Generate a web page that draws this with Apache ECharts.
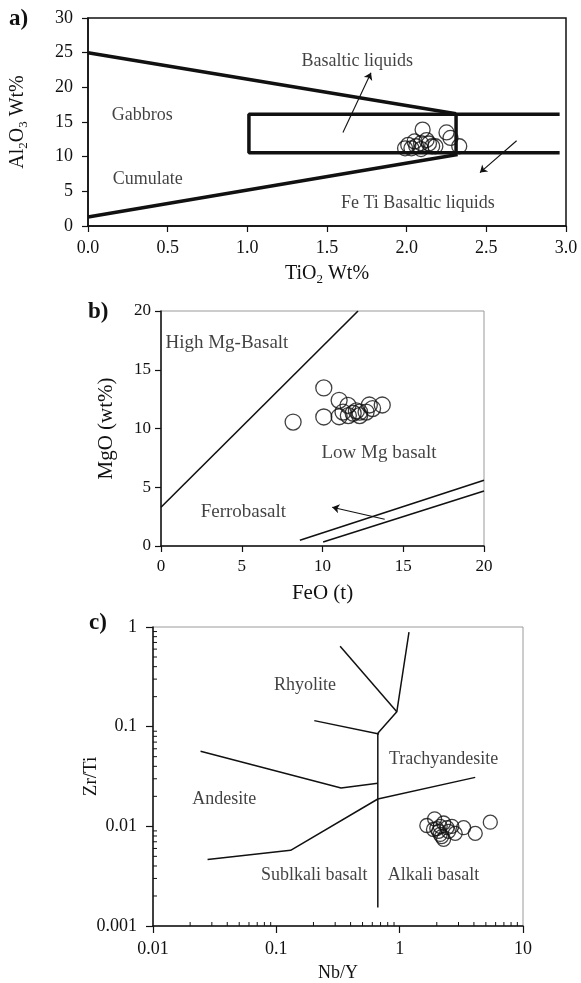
<!DOCTYPE html>
<html>
<head>
<meta charset="utf-8">
<title>Geochemical discrimination diagrams</title>
<script src="https://cdn.jsdelivr.net/npm/echarts@6/dist/echarts.min.js"></script>
<style>
  html, body { margin: 0; padding: 0; background: #fff; }
  #main { width: 581px; height: 983px; }
</style>
</head>
<body>
<div id="main"></div>
<script>
  var serif = 'Liberation Serif'
  var ink = '#111'

  // a) TiO2 vs Al2O3
  var tio2A = [2.10, 2.25, 2.275, 2.33, 1.99, 2.01, 2.05, 2.06, 2.09, 2.125, 2.14, 2.16, 2.18, 2.03, 2.09]
  var al2o3A = [13.9, 13.5, 12.7, 11.5, 11.2, 11.7, 12.2, 11.5, 11.95, 12.4, 11.9, 11.5, 11.5, 11.2, 11.1]
  var fieldLinesA = [
    [[0, 25], [2.31, 16.2]],
    [[0, 1.3], [2.32, 10.3]],
    [[2.96, 16.1], [1.01, 16.1], [1.01, 10.55], [2.96, 10.55]],
    [[2.31, 16.1], [2.31, 10.55]]
  ]
  var arrowsA = [
    [[1.60, 13.5], [1.776, 22.1]],
    [[2.69, 12.3], [2.46, 7.7]]
  ]
  var labelsA = [
    ['Basaltic liquids', 1.69, 23.7],
    ['Gabbros', 0.34, 16.0],
    ['Cumulate', 0.375, 6.75],
    ['Fe Ti Basaltic liquids', 2.07, 3.27]
  ]

  // b) FeO(t) vs MgO
  var feoB = [10.08, 8.18, 10.08, 11.03, 11.03, 11.58, 11.27, 11.9, 12.3, 12.7, 12.9, 13.1, 13.7, 12.3, 11.6, 12.1]
  var mgoB = [13.45, 10.55, 10.98, 12.4, 11.0, 11.97, 11.4, 11.3, 11.4, 11.4, 12.0, 11.7, 12.0, 11.1, 11.1, 11.5]
  var fieldLinesB = [
    [[0, 3.3], [12.2, 20]],
    [[8.6, 0.49], [20, 5.6]],
    [[10.04, 0.34], [20, 4.68]]
  ]
  var arrowsB = [
    [[13.85, 2.27], [10.6, 3.3]]
  ]
  var labelsB = [
    ['High Mg-Basalt', 4.08, 17.3],
    ['Low Mg basalt', 13.5, 7.9],
    ['Ferrobasalt', 5.1, 2.9]
  ]

  // c) Nb/Y vs Zr/Ti (log-log)
  var nbyC = [1.66, 1.92, 2.13, 2.27, 2.42, 2.65, 2.82, 3.30, 4.10, 5.43, 2.07, 2.19, 2.27, 2.13, 2.49, 1.88, 2.0]
  var zrtiC = [0.0102, 0.0119, 0.0100, 0.0108, 0.0097, 0.0100, 0.0085, 0.0097, 0.0085, 0.0110, 0.0089, 0.0079, 0.0074, 0.0083, 0.0089, 0.0093, 0.0095]
  var fieldLinesC = [
    [[0.665, 0.086], [0.665, 0.00153]],
    [[0.665, 0.086], [0.948, 0.141], [1.19, 0.89]],
    [[0.329, 0.64], [0.948, 0.141]],
    [[0.203, 0.115], [0.68, 0.0845]],
    [[0.0243, 0.0567], [0.335, 0.0242], [0.665, 0.0271]],
    [[0.0277, 0.00465], [0.1306, 0.00575], [0.665, 0.0188], [4.1, 0.031]]
  ]
  var labelsC = [
    ['Rhyolite', 0.171, 0.261],
    ['Trachyandesite', 2.27, 0.0475],
    ['Andesite', 0.0378, 0.0185],
    ['Sublkali basalt', 0.203, 0.00324],
    ['Alkali basalt', 1.88, 0.00324]
  ]
  var xMinC = 0.01, xMaxC = 10
  var yMinC = 0.001, yMaxC = 1
  var minorMult = [2, 3, 4, 5, 6, 7, 8, 9]
  var decadesX = [0.01, 0.1, 1]
  var decadesY = [0.001, 0.01, 0.1]

  function zip(xs, ys) {
    return xs.map(function (x, i) { return [x, ys[i]] })
  }

  function axis(grid, opt) {
    var base = {
      gridIndex: grid,
      nameLocation: 'middle',
      nameMoveOverlap: false,
      axisLine: { show: true, onZero: false, lineStyle: { color: ink, width: 1.5 } },
      axisTick: { show: true, inside: false, length: 6, lineStyle: { color: ink, width: 1.2 } },
      axisLabel: { color: ink, fontFamily: serif, fontSize: 18, margin: 13 },
      splitLine: { show: false },
      nameTextStyle: { color: ink, fontFamily: serif, fontSize: 20 }
    }
    return Object.assign(base, opt)
  }

  function boundarySeries(lines, idx, width) {
    return lines.map(function (pts) {
      return {
        type: 'line', xAxisIndex: idx, yAxisIndex: idx,
        data: pts, showSymbol: false, symbol: 'none', silent: true,
        lineStyle: { color: ink, width: width }, z: 3
      }
    })
  }

  function arrowSeries(arrows, idx) {
    return {
      type: 'lines', coordinateSystem: 'cartesian2d', xAxisIndex: idx, yAxisIndex: idx,
      symbol: ['none', 'arrow'], symbolSize: 7, silent: true,
      lineStyle: { color: ink, width: 1.1, opacity: 1, curveness: 0 },
      data: arrows.map(function (a) { return { coords: a } }), z: 3
    }
  }

  function labelSeries(labels, idx, size) {
    return {
      type: 'scatter', xAxisIndex: idx, yAxisIndex: idx, symbolSize: 1, silent: true,
      itemStyle: { color: 'rgba(0,0,0,0)' },
      label: { show: true, position: 'inside', formatter: '{b}', color: ink, fontFamily: serif, fontSize: size },
      data: labels.map(function (l) { return { name: l[0], value: [l[1], l[2]] } }), z: 4
    }
  }

  function pointSeries(xs, ys, idx, size) {
    return {
      type: 'scatter', xAxisIndex: idx, yAxisIndex: idx, symbol: 'circle', symbolSize: size,
      itemStyle: { color: 'rgba(0,0,0,0)', borderColor: ink, borderWidth: 1.3 },
      data: zip(xs, ys), z: 5
    }
  }

  // small log ticks on panel c, pointing inwards
  var minorTicksC = []
  decadesX.forEach(function (d) {
    minorMult.forEach(function (m) { minorTicksC.push([m * d, yMinC, 0]) })
  })
  decadesY.forEach(function (d) {
    minorMult.forEach(function (m) { minorTicksC.push([xMinC, m * d, 1]) })
  })

  var logFmt = function (v) { return String(+v.toPrecision(2)) }
  var subRich = {
    n: { fontFamily: serif, fontSize: 20, lineHeight: 24, color: ink },
    s: { fontFamily: serif, fontSize: 13, lineHeight: 15, verticalAlign: 'bottom', color: ink }
  }

  var chart = echarts.init(document.getElementById('main'))
  var option = {
    backgroundColor: '#fff',
    animation: false,
    title: [
      { text: 'a)', left: 9, top: 8, padding: 0, textStyle: { fontFamily: serif, fontSize: 23, fontWeight: 'bold', color: ink } },
      { text: 'b)', left: 88, top: 301, padding: 0, textStyle: { fontFamily: serif, fontSize: 23, fontWeight: 'bold', color: ink } },
      { text: 'c)', left: 89, top: 612, padding: 0, textStyle: { fontFamily: serif, fontSize: 23, fontWeight: 'bold', color: ink } }
    ],
    grid: [
      { left: 87, top: 18, width: 479, height: 208, show: true, borderColor: ink, borderWidth: 1.5 },
      { left: 161, top: 311, width: 323, height: 235, show: true, borderColor: '#9a9a9a', borderWidth: 1 },
      { left: 153, top: 627, width: 370, height: 302, show: true, borderColor: '#9a9a9a', borderWidth: 1 }
    ],
    xAxis: [
      axis(0, {
        type: 'value', min: 0, max: 3, interval: 0.5,
        name: '{n|TiO}{s|2}{n| Wt%}', nameGap: 36,
        nameTextStyle: { rich: subRich },
        axisLabel: { color: ink, fontFamily: serif, fontSize: 18, margin: 13, formatter: function (v) { return v.toFixed(1) } }
      }),
      axis(1, {
        type: 'value', min: 0, max: 20, interval: 5,
        name: 'FeO (t)', nameGap: 37,
        nameTextStyle: { color: ink, fontFamily: serif, fontSize: 21 },
        axisLabel: { color: ink, fontFamily: serif, fontSize: 17, margin: 12 }
      }),
      axis(2, {
        type: 'log', logBase: 10, min: xMinC, max: xMaxC,
        name: 'Nb/Y', nameGap: 38,
        nameTextStyle: { color: ink, fontFamily: serif, fontSize: 18 },
        axisTick: { show: true, inside: false, length: 7, lineStyle: { color: ink, width: 1.2 } },
        axisLabel: { color: ink, fontFamily: serif, fontSize: 18, margin: 14, formatter: logFmt }
      })
    ],
    yAxis: [
      axis(0, {
        type: 'value', min: 0, max: 30, interval: 5,
        name: '{n|Al}{s|2}{n|O}{s|3}{n| Wt%}', nameGap: 58, nameRotate: 90,
        nameTextStyle: { rich: subRich },
        axisLabel: { color: ink, fontFamily: serif, fontSize: 18, margin: 15 }
      }),
      axis(1, {
        type: 'value', min: 0, max: 20, interval: 5,
        name: 'MgO (wt%)', nameGap: 44, nameRotate: 90,
        nameTextStyle: { color: ink, fontFamily: serif, fontSize: 21 },
        axisLabel: { color: ink, fontFamily: serif, fontSize: 17, margin: 10 }
      }),
      axis(2, {
        type: 'log', logBase: 10, min: yMinC, max: yMaxC,
        name: 'Zr/Ti', nameGap: 52, nameRotate: 90,
        nameTextStyle: { color: ink, fontFamily: serif, fontSize: 19 },
        axisTick: { show: true, inside: false, length: 7, lineStyle: { color: ink, width: 1.2 } },
        axisLabel: { color: ink, fontFamily: serif, fontSize: 18, margin: 16, formatter: logFmt }
      })
    ],
    series: [].concat(
      boundarySeries(fieldLinesA, 0, 3.5),
      [arrowSeries(arrowsA, 0), labelSeries(labelsA, 0, 18), pointSeries(tio2A, al2o3A, 0, 15)],
      boundarySeries(fieldLinesB, 1, 1.6),
      [arrowSeries(arrowsB, 1), labelSeries(labelsB, 1, 19), pointSeries(feoB, mgoB, 1, 16)],
      boundarySeries(fieldLinesC, 2, 1.5),
      [labelSeries(labelsC, 2, 18), pointSeries(nbyC, zrtiC, 2, 14)],
      [{
        type: 'custom', xAxisIndex: 2, yAxisIndex: 2, silent: true,
        data: minorTicksC,
        renderItem: function (params, api) {
          var p = api.coord([api.value(0), api.value(1)])
          var alongY = api.value(2) === 1
          return {
            type: 'line',
            shape: alongY
              ? { x1: p[0], y1: p[1], x2: p[0] + 4, y2: p[1] }
              : { x1: p[0], y1: p[1], x2: p[0], y2: p[1] - 4 },
            style: { stroke: ink, lineWidth: 1 }
          }
        }
      }]
    )
  }
  chart.setOption(option)
</script>
</body>
</html>
